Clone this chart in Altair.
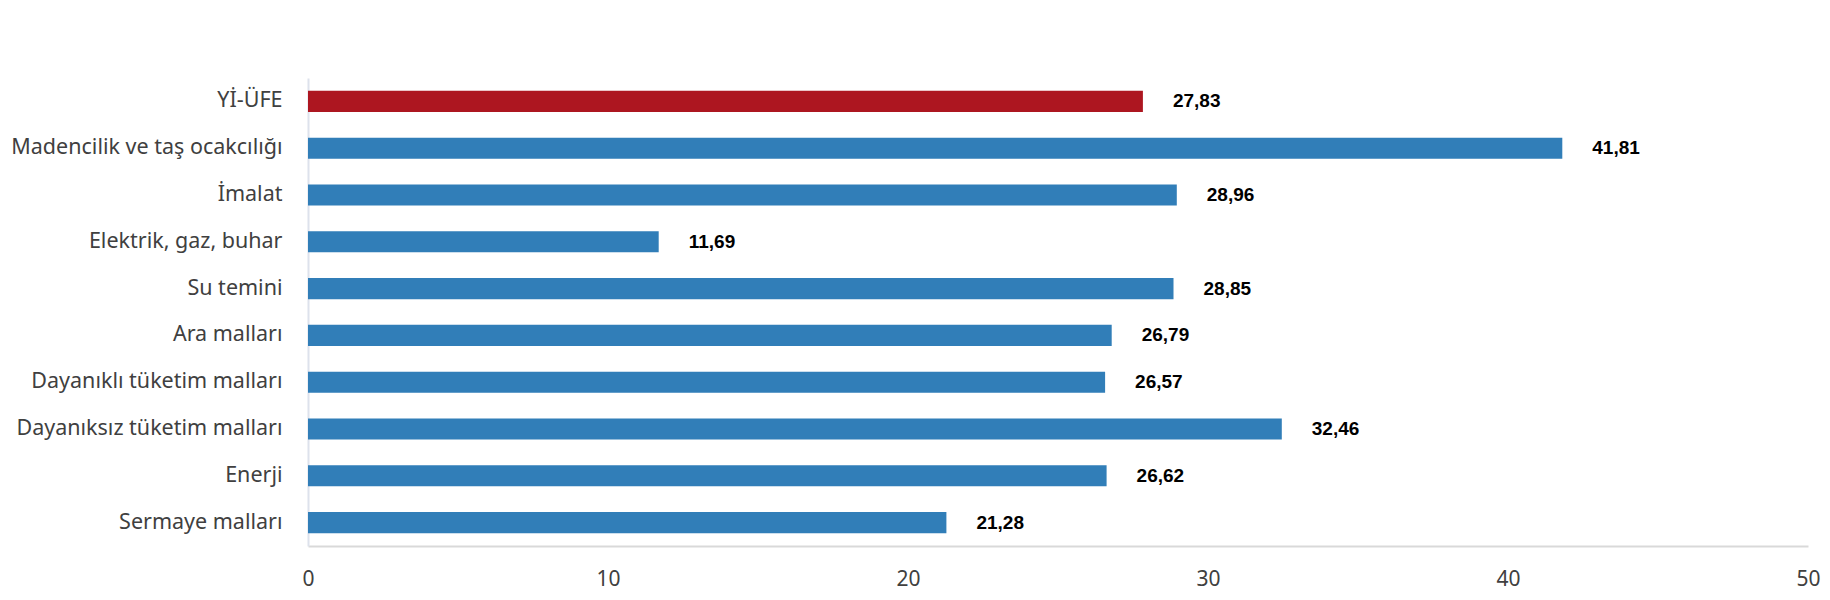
import altair as alt
import pandas as pd

categories = [
    "Yİ-ÜFE",
    "Madencilik ve taş ocakcılığı",
    "İmalat",
    "Elektrik, gaz, buhar",
    "Su temini",
    "Ara malları",
    "Dayanıklı tüketim malları",
    "Dayanıksız tüketim malları",
    "Enerji",
    "Sermaye malları",
]
values = [27.83, 41.81, 28.96, 11.69, 28.85, 26.79, 26.57, 32.46, 26.62, 21.28]
labels = ["27,83", "41,81", "28,96", "11,69", "28,85", "26,79", "26,57", "32,46", "26,62", "21,28"]
groups = ["main"] + ["sub"] * 9

df = pd.DataFrame({"cat": categories, "val": values, "lab": labels, "grp": groups})

y_enc = alt.Y(
    "cat:N",
    sort=categories,
    title=None,
    scale=alt.Scale(paddingInner=0.55, paddingOuter=0.275),
    axis=alt.Axis(
        labelFont="Noto Sans",
        labelFontSize=21.5,
        labelColor="#404040",
        labelPadding=26,
        ticks=False,
        domainColor="#dde2ec",
        domainWidth=2,
        labelLimit=400,
    ),
)
x_enc = alt.X(
    "val:Q",
    title=None,
    scale=alt.Scale(domain=[0, 50], nice=False),
    axis=alt.Axis(
        values=[0, 10, 20, 30, 40, 50],
        grid=False,
        ticks=False,
        labelFont="Noto Sans",
        labelFontSize=21,
        labelColor="#404040",
        labelPadding=22,
        domainColor="#d9d9d9",
        domainWidth=2,
        labelFlush=False,
    ),
)

bars = alt.Chart(df).mark_bar().encode(
    y=y_enc,
    x=x_enc,
    color=alt.Color(
        "grp:N",
        scale=alt.Scale(domain=["main", "sub"], range=["#ad1620", "#317eb8"]),
        legend=None,
    ),
)

text = alt.Chart(df).mark_text(
    align="left",
    baseline="middle",
    dx=30,
    font="Liberation Sans",
    fontSize=19,
    fontWeight="bold",
    color="#000000",
).encode(y=alt.Y("cat:N", sort=categories), x="val:Q", text="lab:N")

chart = (
    alt.layer(bars, text)
    .properties(
        width=1500,
        height=468,
        autosize=alt.AutoSizeParams(type="none"),
        padding={"left": 300, "top": 70, "right": 14, "bottom": 70},
        view=alt.ViewBackground(stroke="transparent"),
    )
    .configure_view(stroke="transparent")
    .configure(background="white")
)

chart.save("out.html", embed_options={"renderer": "svg", "actions": False})
